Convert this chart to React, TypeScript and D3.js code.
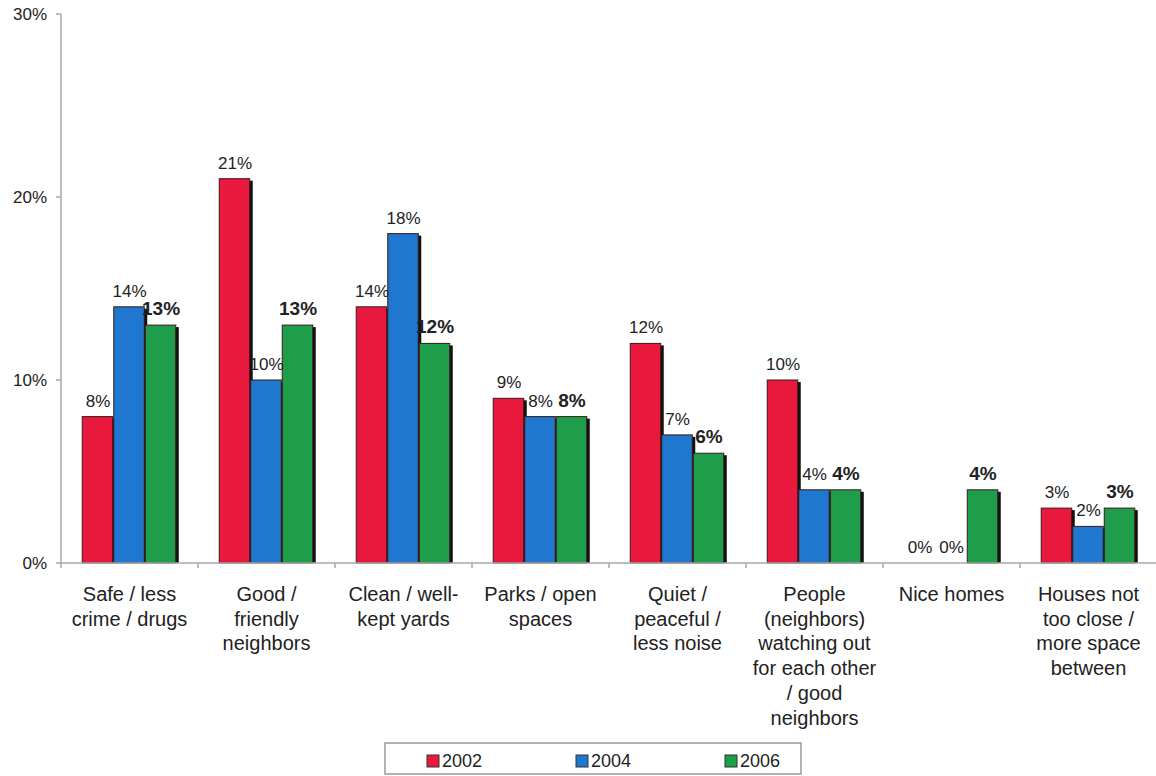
import React from "react";
import * as d3 from "d3";

const categories: string[][] = [
  ["Safe / less", "crime / drugs"],
  ["Good /", "friendly", "neighbors"],
  ["Clean / well-", "kept yards"],
  ["Parks / open", "spaces"],
  ["Quiet /", "peaceful /", "less noise"],
  ["People", "(neighbors)", "watching out", "for each other", "/ good", "neighbors"],
  ["Nice homes"],
  ["Houses not", "too close /", "more space", "between"],
];
const years = ["2002", "2004", "2006"];
const values2002 = [8, 21, 14, 9, 12, 10, 0, 3];
const values2004 = [14, 10, 18, 8, 7, 4, 0, 2];
const values2006 = [13, 13, 12, 8, 6, 4, 4, 3];
const yTicks = [0, 10, 20, 30];

const colors = ["#e8193c", "#1f77d0", "#1e9e4a"];
const W = 1156;
const H = 776;
const FONT = "'Liberation Sans', Arial, Helvetica, sans-serif";
const TEXT = "#222";

export default function App() {
  const series = [values2002, values2004, values2006];
  const left = 61;
  const right = 1157;
  const top = 14;
  const bottom = 563;

  const idx = categories.map((_, i) => i);
  const x0 = d3.scaleBand<number>().domain(idx).range([left, right]).paddingInner(0.31).paddingOuter(0.155);
  const x1 = d3.scaleBand<number>().domain([0, 1, 2]).range([0, x0.bandwidth()]);
  const y = d3.scaleLinear().domain([0, 30]).range([bottom, top]);
  const step = x0.step();
  const boundaries = d3.range(categories.length + 1).map((i) => left + i * step);

  const legendX = [427, 576, 725];

  return (
    <svg width={W} height={H} style={{ position: "absolute", left: 0, top: 0, background: "#fff" }} fontFamily={FONT}>
      <rect x={0} y={0} width={W} height={H} fill="#fff" />
      {/* y axis */}
      <line x1={left} x2={left} y1={y(30)} y2={bottom} stroke="#a8a8a8" strokeWidth={1.5} />
      {yTicks.map((t) => (
        <g key={t}>
          <line x1={left - 5} x2={left} y1={y(t)} y2={y(t)} stroke="#a8a8a8" strokeWidth={1.5} />
          <text x={47} y={y(t)} dy="0.35em" textAnchor="end" fontSize={17} fill={TEXT}>
            {t}%
          </text>
        </g>
      ))}
      {/* bars */}
      {series.map((vals, s) =>
        vals.map((v, i) => {
          const bx = (x0(i) as number) + (x1(s) as number);
          const bw = x1.bandwidth();
          const by = y(v);
          const bh = bottom - by;
          if (bh <= 0) return null;
          return (
            <g key={`b${s}-${i}`}>
              <rect x={bx + 3} y={by + 2} width={bw - 1} height={bh - 2} fill="#111" />
              <rect x={bx} y={by} width={bw - 1} height={bh} fill={colors[s]} stroke="#3a1a1a" strokeWidth={1} />
            </g>
          );
        })
      )}
      {/* x axis */}
      <line x1={left} x2={right} y1={bottom} y2={bottom} stroke="#a8a8a8" strokeWidth={1.5} />
      {boundaries.map((bx, i) => (
        <line key={`t${i}`} x1={bx} x2={bx} y1={bottom} y2={bottom + 5} stroke="#a8a8a8" strokeWidth={1.5} />
      ))}
      {/* value labels */}
      {series.map((vals, s) =>
        vals.map((v, i) => {
          const cx = (x0(i) as number) + (x1(s) as number) + x1.bandwidth() / 2;
          return (
            <text
              key={`l${s}-${i}`}
              x={cx}
              y={y(v) - 10}
              textAnchor="middle"
              fontSize={s === 2 ? 19 : 17}
              fontWeight={s === 2 ? "bold" : "normal"}
              fill={TEXT}
            >
              {v}%
            </text>
          );
        })
      )}
      {/* category labels */}
      {categories.map((lines, i) => {
        const cx = (x0(i) as number) + x0.bandwidth() / 2;
        return (
          <text key={`c${i}`} x={cx} y={601} textAnchor="middle" fontSize={20} fill={TEXT}>
            {lines.map((ln, k) => (
              <tspan key={k} x={cx} y={601 + k * 24.7}>
                {ln}
              </tspan>
            ))}
          </text>
        );
      })}
      {/* legend */}
      <rect x={385} y={743} width={416} height={31} fill="#fff" stroke="#9a9a9a" strokeWidth={1.5} />
      {years.map((yr, s) => (
        <g key={yr}>
          <rect x={legendX[s]} y={755} width={12} height={12} fill={colors[s]} stroke="#333" strokeWidth={1} />
          <text x={legendX[s] + 15} y={767} fontSize={18} fill={TEXT}>
            {yr}
          </text>
        </g>
      ))}
    </svg>
  );
}
